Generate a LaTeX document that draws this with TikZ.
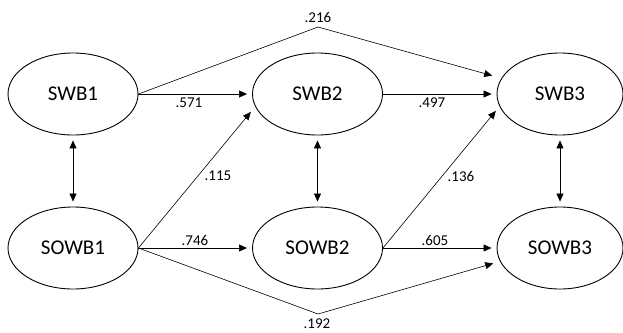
\documentclass[tikz,border=0pt]{standalone}
\usepackage{fontspec}
\setmainfont{Carlito}
\usetikzlibrary{arrows.meta,shapes.geometric}
\begin{document}
\begin{tikzpicture}[x=1pt,y=-1pt,
  latent/.style={ellipse,draw,line width=0.9pt,inner sep=0pt,minimum width=130,minimum height=82,font=\fontsize{21}{24}\selectfont},
  path/.style={line width=0.6pt,-{Triangle[length=8pt,width=7pt]},shorten >=5pt},
  cov/.style={line width=0.6pt,{Triangle[length=8pt,width=7pt]}-{Triangle[length=8pt,width=7pt]},shorten >=5pt,shorten <=5pt},
  coef/.style={inner sep=0pt,font=\fontsize{15}{18}\selectfont}]
\useasboundingbox (0,0) rectangle (623,332);
\node[latent] (swb1) at (73,94) {SWB1};
\node[latent] (swb2) at (317.5,94) {SWB2};
\node[latent,minimum width=126] (swb3) at (560,94) {SWB3};
\node[latent] (sowb1) at (73,248) {SOWB1};
\node[latent] (sowb2) at (317.5,248) {SOWB2};
\node[latent,minimum width=126] (sowb3) at (560,248) {SOWB3};
% free-end coordinates
\coordinate (pk) at (318,27);
\coordinate (vl) at (318,314);
\coordinate (t216) at (497,77);
\coordinate (t115) at (254,108);
\coordinate (t136) at (499,107);
\coordinate (t192) at (498,262);
% horizontal paths
\draw[path] (swb1.east) -- (swb2.west);
\draw[path] (swb2.east) -- (swb3.west);
\draw[path] (sowb1.east) -- (sowb2.west);
\draw[path] (sowb2.east) -- (sowb3.west);
% cross-lagged
\draw[path] (sowb1.east) -- (t115);
\draw[path] (sowb2.east) -- (t136);
% lag-2
\draw[path] (swb1.east) -- (pk) -- (t216);
\draw[path] (sowb1.east) -- (vl) -- (t192);
% covariances
\draw[cov] (swb1.south) -- (sowb1.north);
\draw[cov] (swb2.south) -- (sowb2.north);
\draw[cov] (swb3.south) -- (sowb3.north);
% labels
\node[coef] (l216) at (318,17) {.216};
\node[coef] (l571) at (189,103) {.571};
\node[coef] (l497) at (432,103) {.497};
\node[coef] (l115) at (218,176) {.115};
\node[coef] (l136) at (461,176) {.136};
\node[coef] (l746) at (195,240) {.746};
\node[coef] (l605) at (435,240) {.605};
\node[coef] (l192) at (317,324) {.192};
\end{tikzpicture}
\end{document}
